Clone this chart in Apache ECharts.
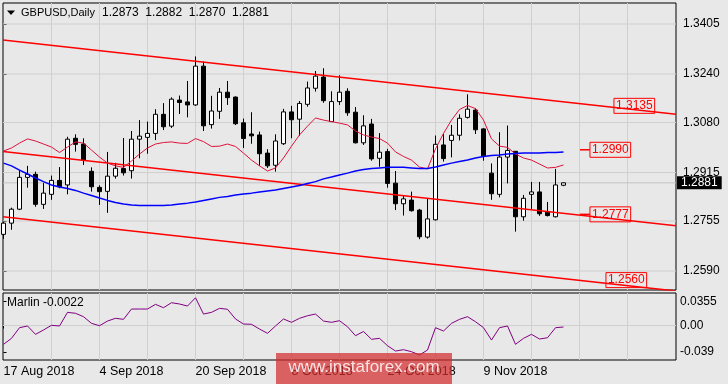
<!DOCTYPE html>
<html><head><meta charset="utf-8">
<script src="https://cdn.jsdelivr.net/npm/echarts@6/dist/echarts.min.js"></script>
<style>html,body{margin:0;padding:0;background:#e8e8e8}#c{width:728px;height:384px}</style>
</head><body><div id="c"></div><script>
// ---- data (GBPUSD daily, bar 0 = 17 Aug 2018) ----
const opens  = [1.2711,1.2748,1.2794,1.2899,1.2909,1.2810,1.2843,1.2889,1.2874,1.3028,1.3009,1.2919,1.2866,1.2853,1.2903,1.2928,1.2921,1.3025,1.3031,1.3044,1.3107,1.3068,1.3154,1.3148,1.3138,1.3266,1.3073,1.3117,1.3180,1.3164,1.3079,1.3042,1.3039,1.2979,1.2939,1.3010,1.3115,1.3091,1.3140,1.3193,1.3230,1.3083,1.3149,1.3183,1.3114,1.3013,1.3075,1.2962,1.2984,1.2880,1.2812,1.2824,1.2791,1.2702,1.2759,1.3006,1.3021,1.3038,1.3097,1.3121,1.3059,1.2913,1.2843,1.2966,1.2985,1.2769,1.2843,1.2851,1.2784,1.2769,1.2873];
const highs  = [1.2753,1.2799,1.2923,1.2937,1.2918,1.2881,1.2905,1.2933,1.3033,1.3041,1.3028,1.2932,1.2873,1.2983,1.2947,1.3029,1.3052,1.3088,1.3083,1.3124,1.3144,1.3163,1.3169,1.3217,1.3298,1.3281,1.3168,1.3194,1.3217,1.3166,1.3093,1.3114,1.3050,1.2992,1.3041,1.3125,1.3135,1.3151,1.3215,1.3250,1.3259,1.3183,1.3236,1.3193,1.3131,1.3104,1.3092,1.3045,1.2993,1.2920,1.2839,1.2852,1.2795,1.2830,1.3037,1.3043,1.3072,1.3107,1.3173,1.3127,1.3061,1.2945,1.3048,1.3070,1.2986,1.2841,1.2884,1.2884,1.2818,1.2927,1.2882];
const lows   = [1.2696,1.2726,1.2791,1.2865,1.2802,1.2795,1.2825,1.2863,1.2843,1.2984,1.2940,1.2852,1.2808,1.2782,1.2895,1.2905,1.2895,1.2962,1.2977,1.3022,1.3055,1.3062,1.3108,1.3097,1.3135,1.3052,1.3060,1.3092,1.3138,1.3072,1.2996,1.3010,1.2937,1.2930,1.2918,1.3006,1.3028,1.3036,1.3132,1.3182,1.3145,1.3082,1.3138,1.3102,1.3011,1.3006,1.2954,1.2934,1.2865,1.2791,1.2773,1.2786,1.2695,1.2697,1.2757,1.2951,1.2965,1.3021,1.3093,1.3042,1.2954,1.2825,1.2833,1.2879,1.2720,1.2756,1.2795,1.2772,1.2770,1.2767,1.2870];
const closes = [1.2748,1.2794,1.2899,1.2909,1.2810,1.2847,1.2889,1.2868,1.3025,1.3008,1.2956,1.2868,1.2852,1.2903,1.2929,1.2914,1.3025,1.3035,1.3044,1.3107,1.3066,1.3157,1.3146,1.3138,1.3266,1.3069,1.3118,1.3180,1.3162,1.3076,1.3027,1.3036,1.2977,1.2937,1.3019,1.3115,1.3089,1.3143,1.3194,1.3233,1.3152,1.3149,1.3180,1.3112,1.3013,1.3069,1.2960,1.2982,1.2879,1.2812,1.2828,1.2789,1.2703,1.2762,1.3008,1.2961,1.3038,1.3094,1.3124,1.3056,1.2970,1.2845,1.2966,1.2988,1.2769,1.2830,1.2851,1.2779,1.2773,1.2874,1.2881];
const maFast = [1.2986,1.2996,1.3012,1.3026,1.3019,1.3009,1.2999,1.2981,1.2999,1.3016,1.3012,1.2989,1.2966,1.2946,1.2937,1.2932,1.2953,1.2976,1.2996,1.3009,1.3014,1.3016,1.3012,1.3011,1.3027,1.3017,1.3001,1.3002,1.3009,1.3001,1.2979,1.2956,1.2937,1.2920,1.2930,1.2963,1.3002,1.3039,1.3068,1.3095,1.3088,1.3083,1.3078,1.3072,1.3052,1.3039,1.3032,1.3027,1.3012,1.2983,1.2968,1.2956,1.2933,1.2927,1.2993,1.3044,1.3088,1.3123,1.3136,1.3126,1.3088,1.3026,1.3002,1.2998,1.2976,1.2963,1.2956,1.2943,1.2930,1.2932,1.2940];
const maSlow = [1.2946,1.2937,1.2923,1.2910,1.2897,1.2885,1.2874,1.2867,1.2862,1.2856,1.2847,1.2839,1.2831,1.2823,1.2816,1.2811,1.2808,1.2806,1.2806,1.2806,1.2806,1.2808,1.2811,1.2814,1.2818,1.2823,1.2828,1.2833,1.2836,1.2841,1.2844,1.2847,1.2851,1.2854,1.2857,1.2862,1.2867,1.2872,1.2879,1.2885,1.2894,1.2900,1.2907,1.2913,1.2920,1.2925,1.2928,1.2930,1.2932,1.2932,1.2932,1.2930,1.2928,1.2928,1.2933,1.2940,1.2946,1.2951,1.2956,1.2963,1.2968,1.2971,1.2973,1.2976,1.2978,1.2979,1.2979,1.2979,1.2981,1.2981,1.2983];
const marlin = [-0.0277,-0.0189,-0.0032,-0.0007,-0.0130,-0.0066,0.0003,-0.0007,0.0194,0.0180,0.0130,0.0032,-0.0003,0.0066,0.0106,0.0091,0.0243,0.0243,0.0243,0.0312,0.0262,0.0336,0.0317,0.0287,0.0409,0.0169,0.0194,0.0253,0.0239,0.0096,0.0022,0.0018,-0.0052,-0.0115,-0.0007,0.0096,0.0047,0.0106,0.0144,0.0169,0.0066,0.0047,0.0071,-0.0018,-0.0150,-0.0088,-0.0203,-0.0189,-0.0297,-0.0376,-0.0356,-0.0386,-0.0434,-0.0361,-0.0032,-0.0081,0.0032,0.0091,0.0130,0.0056,-0.0032,-0.0214,-0.0032,-0.0007,-0.0277,-0.0189,-0.0130,-0.0199,-0.0180,-0.0032,-0.0022];
// trend channel: [bar, price] end points
const channelTop    = [[-0.0625,1.3352],[84.0625,1.3107]];
const channelMid    = [[-0.0625,1.2984],[84.0625,1.2739]];
const channelBottom = [[-0.0625,1.2769],[84.0625,1.2524]];
const levelValues = [1.3135,1.2990,1.2777,1.2560];
const levelLabels = ['1.3135','1.2990','1.2777','1.2560'];
const levelBars   = [78.85,75.85,75.85,77.85];
const priceTicks = [1.3405,1.3240,1.3080,1.2915,1.2755,1.2590];
const marlinTicks = [0.0355,0.00,-0.039];
const marlinTickLabels = ['0.0355','0.00','-0.039'];
const dateTickBars = [0,12,24,36,48,60];
const dateTickLabels = ['17 Aug 2018','4 Sep 2018','20 Sep 2018','8 Oct 2018','24 Oct 2018','9 Nov 2018'];
const gridBars = [6,12,18,24,30,36,42,48,54,60,66,72,78];

// ---- build ----
const F = 'Liberation Sans';
const idx = opens.map((_, i) => i);
const candleData = idx.map(i => [i, opens[i], closes[i], lows[i], highs[i]]);
const n = closes.length - 1;
const XMIN = -0.0625, XMAX = 84.0625;
const Y0 = [1.25274, 1.34743], Y1 = [-0.0508, 0.0479];
const gridStyle = () => ({color:'#d0d0d0', width:1});
function seg(ax, pts, style, z){
  return {type:'line', xAxisIndex:ax, yAxisIndex:ax, z:z, data:pts, showSymbol:false, silent:true,
          clip:false, lineStyle:style};
}
const gridSeries = [
  ...priceTicks.map(v=>seg(0, [[XMIN,v],[XMAX,v]], gridStyle(), 1)),
  ...gridBars.map(b=>seg(0, [[b,Y0[0]],[b,Y0[1]]], gridStyle(), 1)),
  seg(1, [[XMIN,0],[XMAX,0]], gridStyle(), 1),
  ...gridBars.map(b=>seg(1, [[b,Y1[0]],[b,Y1[1]]], gridStyle(), 1))
];
const chart = echarts.init(document.getElementById('c'), null, {renderer:'canvas'});
chart.setOption({
  animation:false,
  backgroundColor:'#e8e8e8',
  textStyle:{fontFamily:F},
  grid:[
    {left:3, top:3, width:673, height:287, show:true, borderColor:'#000', borderWidth:1, backgroundColor:'transparent'},
    {left:3, top:293, width:673, height:67, show:true, borderColor:'#000', borderWidth:1, backgroundColor:'transparent'}
  ],
  xAxis:[
    {type:'value', gridIndex:0, min:XMIN, max:XMAX, show:false},
    {type:'value', gridIndex:1, min:XMIN, max:XMAX,
     axisLine:{show:false}, splitLine:{show:false},
     axisTick:{show:true, customValues:dateTickBars, length:3, lineStyle:{color:'#000'}},
     axisLabel:{customValues:dateTickBars, formatter:v=>dateTickLabels[dateTickBars.indexOf(v)] || '',
       align:'left', margin:5, fontSize:12.5, color:'#000', fontFamily:F}}
  ],
  yAxis:[
    {type:'value', gridIndex:0, position:'right', min:Y0[0], max:Y0[1],
     axisLine:{show:false}, splitLine:{show:false},
     axisTick:{show:true, customValues:priceTicks, length:3, lineStyle:{color:'#000'}},
     axisLabel:{customValues:priceTicks, formatter:v=>v.toFixed(4), margin:7, fontSize:12, color:'#000', fontFamily:F}},
    {type:'value', gridIndex:1, position:'right', min:Y1[0], max:Y1[1],
     axisLine:{show:false}, splitLine:{show:false},
     axisTick:{show:true, customValues:marlinTicks, length:3, lineStyle:{color:'#000'}},
     axisLabel:{customValues:marlinTicks, formatter:v=>{const k=marlinTicks.findIndex(t=>Math.abs(t-v)<1e-9);return k>=0?marlinTickLabels[k]:'';}, margin:4, fontSize:12, color:'#000', fontFamily:F}}
  ],
  series:[
    ...gridSeries,
    {type:'line', xAxisIndex:0, yAxisIndex:0, z:1, clip:false, silent:true, showSymbol:false,
     data:[[XMIN,closes[n]],[XMAX,closes[n]]], lineStyle:{color:'#c2c2c2', width:1},
     endLabel:{show:true, distance:1, formatter:()=>closes[n].toFixed(4), color:'#fff', backgroundColor:'#000',
       padding:[1,4,0,4], fontSize:12, lineHeight:12, fontFamily:F}},
    {type:'candlestick', xAxisIndex:0, yAxisIndex:0, z:2, barWidth:5, clip:true,
     encode:{x:0, y:[1,2,3,4]}, data:candleData,
     itemStyle:{color:'#ffffff', color0:'#000000', borderColor:'#000000', borderColor0:'#000000', borderWidth:1}},
    ...[channelTop, channelMid, channelBottom].map(d=>({...seg(0, d, {color:'#ff0000', width:1.5}, 3), clip:true})),
    ...[1,2].map(k=>seg(0, [[72.06,levelValues[k]],[73.3,levelValues[k]]], {color:'#ff0000', width:1.5}, 3)),
    seg(0, idx.map(i=>[i,maFast[i]]), {color:'#dc143c', width:1}, 3),
    seg(0, idx.map(i=>[i,maSlow[i]]), {color:'#0000ff', width:1.5}, 3),
    {type:'scatter', xAxisIndex:0, yAxisIndex:0, z:4, clip:false, symbolSize:2, silent:true, itemStyle:{color:'rgba(0,0,0,0)'},
     data:levelValues.map((v,k)=>({value:[levelBars[k], v], name:levelLabels[k]})),
     label:{show:true, position:'inside', formatter:p=>p.name, color:'#ff0000', fontSize:12, lineHeight:13, fontFamily:F, opacity:1,
       borderColor:'#ff0000', borderWidth:1, padding:[1,2,1,2]}},
    seg(1, idx.map(i=>[i,marlin[i]]), {color:'#800080', width:1}, 3)
  ],
  graphic:[
    {type:'polygon', shape:{points:[[7,10.5],[15,10.5],[11,15]]}, style:{fill:'#000'}, z:50},
    {type:'text', x:21, y:13, style:{text:'GBPUSD,Daily', font:'11px "Liberation Sans"', fill:'#000', verticalAlign:'middle'}, z:50},
    {type:'text', x:102, y:13, style:{text:[opens[n],highs[n],lows[n],closes[n]].map(v=>v.toFixed(4)).join('  '), font:'12px "Liberation Sans"', fill:'#000', verticalAlign:'middle'}, z:50},
    {type:'text', x:7, y:303, style:{text:'Marlin ' + marlin[n].toFixed(4), font:'12px "Liberation Sans"', fill:'#000', verticalAlign:'middle'}, z:50},
    {type:'rect', shape:{x:276, y:353, width:176, height:31}, style:{fill:'rgba(210,45,45,0.72)'}, z:100},
    {type:'text', x:364, y:367.5, style:{text:'www.instaforex.com', font:'17px "Liberation Sans"', fill:'rgba(255,238,238,0.92)', align:'center', verticalAlign:'middle'}, z:101}
  ]
});
</script></body></html>
